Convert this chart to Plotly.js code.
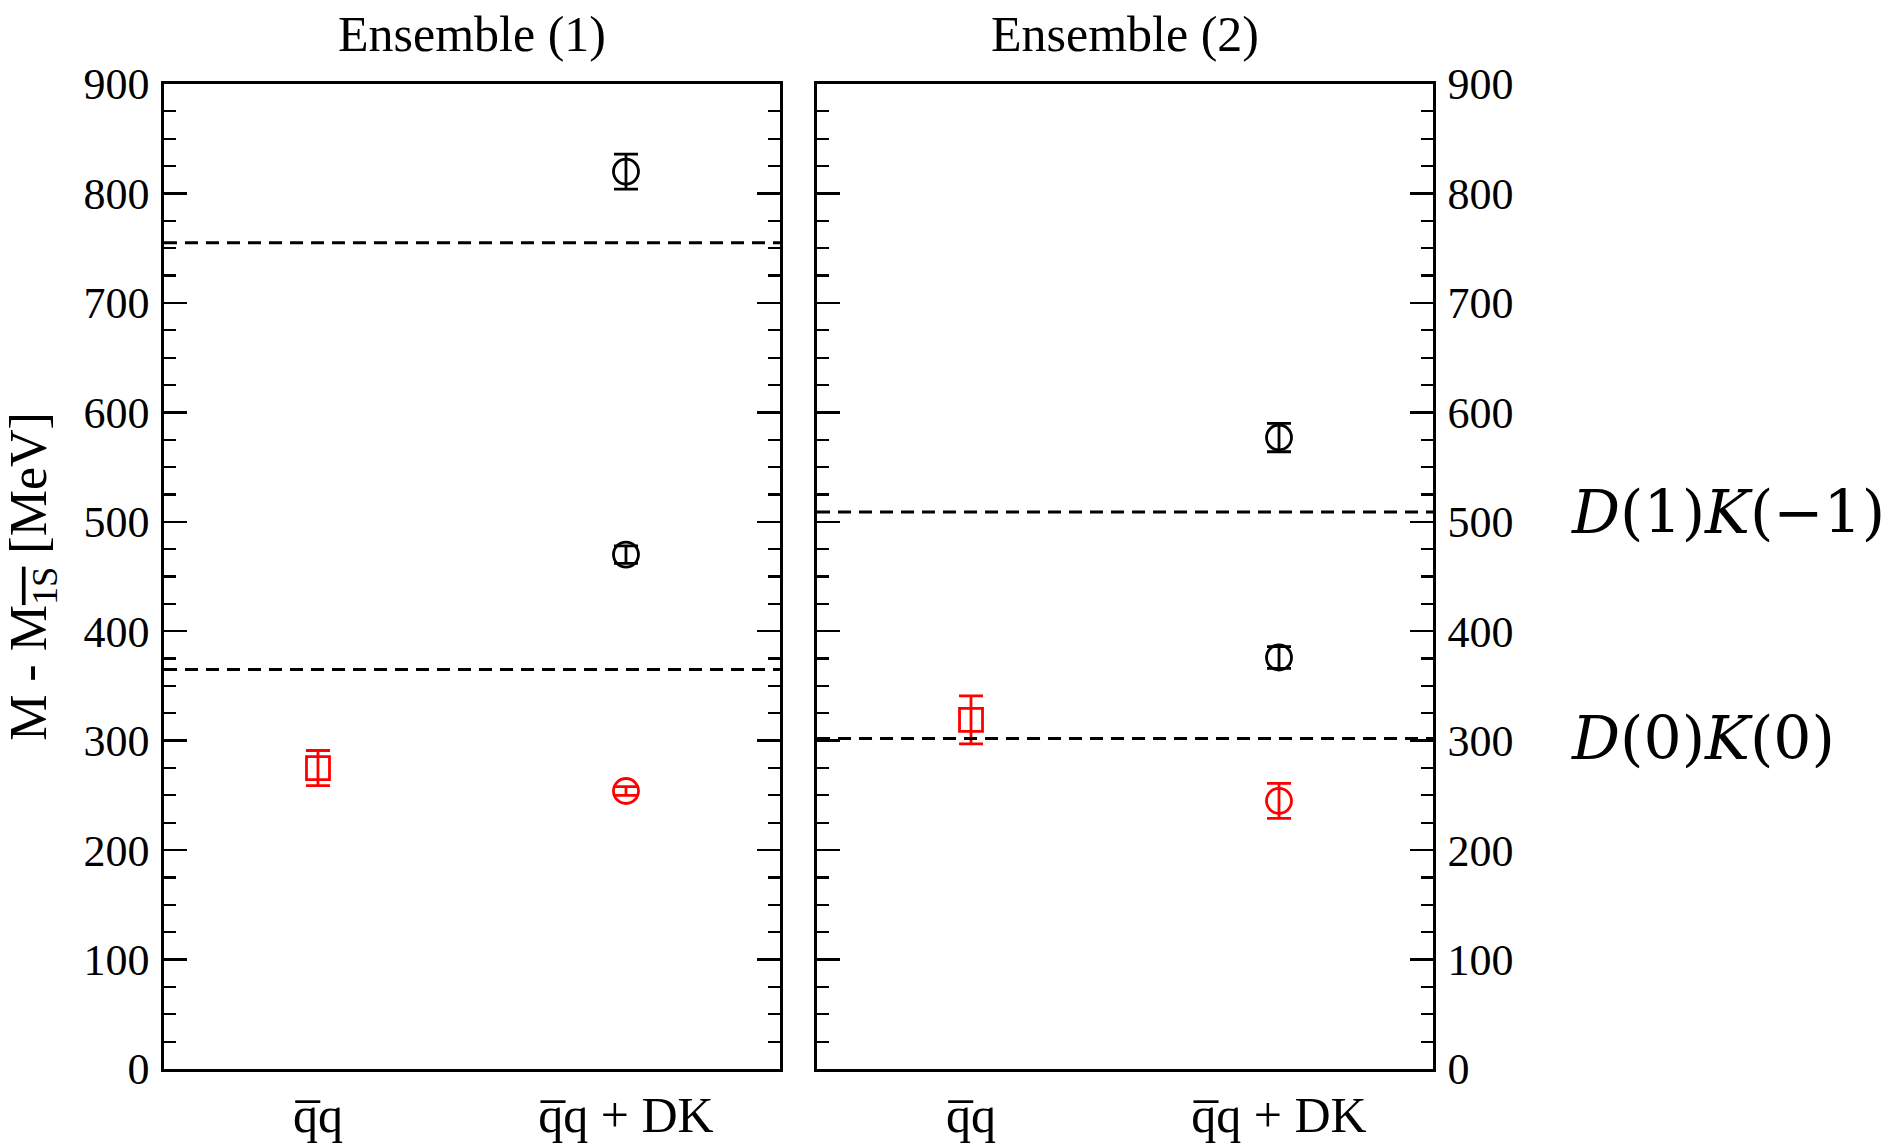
<!DOCTYPE html>
<html>
<head>
<meta charset="utf-8">
<script src="https://cdn.plot.ly/plotly-3.0.1.min.js"></script>
<style>html,body{margin:0;padding:0;background:#fff;}</style>
</head>
<body>
<div id="chart" style="width:1894px;height:1144px;"></div>
<script>
// ---- data ----
const categories = ['q\u0305q', 'q\u0305q + DK'];
const panelTitles = ['Ensemble (1)', 'Ensemble (2)'];

// Ensemble (1)
const ens1QqValue = [275];
const ens1QqError = [16];
const ens1GroundValue = [254];
const ens1GroundError = [4];
const ens1ExcitedValues = [470, 820];
const ens1ExcitedErrors = [8, 16];
const ens1Thresholds = [365, 755];

// Ensemble (2)
const ens2QqValue = [319];
const ens2QqError = [22];
const ens2GroundValue = [245];
const ens2GroundError = [16];
const ens2ExcitedValues = [376, 577];
const ens2ExcitedErrors = [10, 13];
const ens2Thresholds = [302, 509];
const thresholdLabels = ['<i>D</i>(0)<i>K</i>(0)', '<i>D</i>(1)<i>K</i>(\u22121)'];

const yTicks = [0, 100, 200, 300, 400, 500, 600, 700, 800, 900];

// ---- build ----
const RED = '#ff0000', BLACK = '#000000';
function errTrace(xCat, vals, errs, color, symbol, size, xa, ya) {
  return {
    type: 'scatter', mode: 'markers',
    x: vals.map(() => xCat), y: vals,
    xaxis: xa, yaxis: ya,
    marker: {symbol: symbol, size: size, color: color, line: {color: color, width: 2.8}},
    error_y: {type: 'data', array: errs, visible: true, color: color, thickness: 2.8, width: 12},
    hoverinfo: 'y'
  };
}

const traces = [
  errTrace(categories[0], ens1QqValue, ens1QqError, RED, 'square-open', 23, 'x', 'y'),
  errTrace(categories[1], ens1GroundValue, ens1GroundError, RED, 'circle-open', 25, 'x', 'y'),
  errTrace(categories[1], ens1ExcitedValues, ens1ExcitedErrors, BLACK, 'circle-open', 25, 'x', 'y'),
  errTrace(categories[0], ens2QqValue, ens2QqError, RED, 'square-open', 23, 'x2', 'y2'),
  errTrace(categories[1], ens2GroundValue, ens2GroundError, RED, 'circle-open', 25, 'x2', 'y2'),
  errTrace(categories[1], ens2ExcitedValues, ens2ExcitedErrors, BLACK, 'circle-open', 25, 'x2', 'y2')
];

const shapes = [];
function addThresholds(vals, xref, yref) {
  vals.forEach(v => shapes.push({
    type: 'line', xref: xref + ' domain', yref: yref,
    x0: 0, x1: 1, y0: v, y1: v,
    line: {color: BLACK, width: 3, dash: '13px,8px'}
  }));
}
addThresholds(ens1Thresholds, 'x', 'y');
addThresholds(ens2Thresholds, 'x2', 'y2');

const FONT = 'Liberation Serif, Times New Roman, serif';
const xCommon = {
  type: 'category', categoryorder: 'array', categoryarray: categories,
  range: [-0.5, 1.5], showline: true, mirror: true, linewidth: 2.6, linecolor: BLACK,
  ticks: '', showgrid: false, zeroline: false,
  tickfont: {family: FONT, size: 50, color: BLACK}, fixedrange: true
};
const yCommon = {
  range: [0, 900], tickvals: yTicks, ticks: 'inside', ticklen: 23, tickwidth: 2.4,
  tickcolor: BLACK, showline: true, mirror: 'ticks', linewidth: 2.6, linecolor: BLACK,
  showgrid: false, zeroline: false, ticklabelstandoff: 3,
  minor: {dtick: 25, tick0: 0, ticks: 'inside', ticklen: 12, tickwidth: 2.2, tickcolor: BLACK, showgrid: false},
  tickfont: {family: FONT, size: 44, color: BLACK}, fixedrange: true
};

const annotations = [
  {text: panelTitles[0], xref: 'x domain', yref: 'paper', x: 0.5, y: 1, yanchor: 'bottom', yshift: 20,
   showarrow: false, font: {family: FONT, size: 50, color: BLACK}},
  {text: panelTitles[1], xref: 'x2 domain', yref: 'paper', x: 0.5, y: 1, yanchor: 'bottom', yshift: 20,
   showarrow: false, font: {family: FONT, size: 50, color: BLACK}}
];
ens2Thresholds.forEach((v, i) => annotations.push({
  text: thresholdLabels[i], xref: 'paper', yref: 'y2', x: 1.107, y: v, xanchor: 'left', yanchor: 'middle',
  showarrow: false, font: {family: 'DejaVu Serif, serif', size: 60, color: BLACK}
}));

const layout = {
  width: 1894, height: 1144,
  margin: {l: 164, r: 461, t: 84, b: 75},
  paper_bgcolor: '#ffffff', plot_bgcolor: '#ffffff',
  showlegend: false,
  font: {family: FONT, color: BLACK},
  xaxis: Object.assign({}, xCommon, {domain: [0, 0.4854], anchor: 'y'}),
  xaxis2: Object.assign({}, xCommon, {domain: [0.5146, 1], anchor: 'y2'}),
  yaxis: Object.assign({}, yCommon, {anchor: 'x', side: 'left',
    title: {text: 'M - M<sub><span style="text-decoration:overline">1S</span></sub> [MeV]', standoff: 22,
            font: {family: FONT, size: 52, color: BLACK}}}),
  yaxis2: Object.assign({}, yCommon, {anchor: 'x2', side: 'right'}),
  shapes: shapes,
  annotations: annotations
};

Plotly.newPlot('chart', traces, layout, {staticPlot: true, displayModeBar: false});
</script>
</body>
</html>
